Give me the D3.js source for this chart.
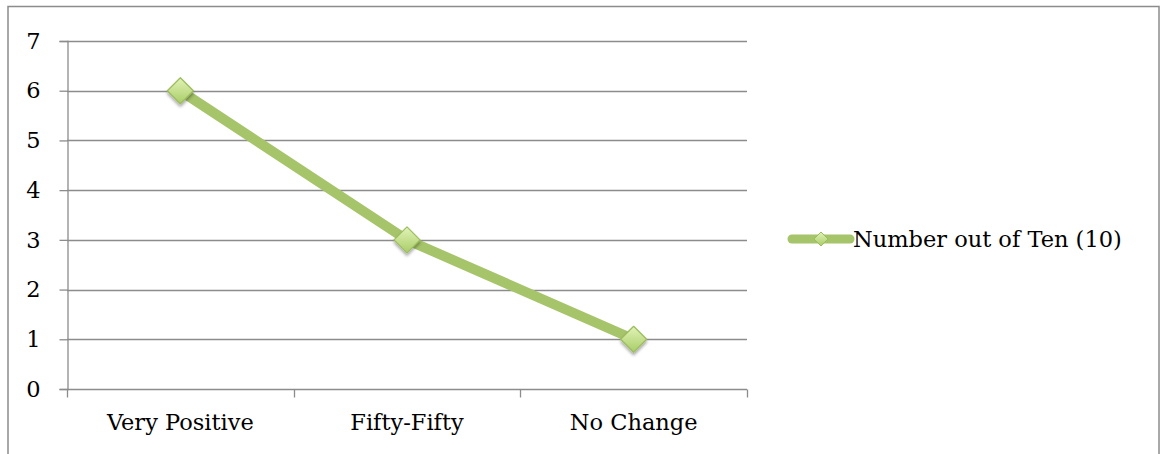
<!DOCTYPE html>
<html>
<head>
<meta charset="utf-8">
<script src="https://cdn.jsdelivr.net/npm/d3@7/dist/d3.min.js"></script>
<style>
  html, body { margin: 0; padding: 0; background: #fff; }
  svg { display: block; }
  text { font-family: "DejaVu Serif", "Liberation Serif", serif; fill: #000; }
</style>
</head>
<body>
<svg id="chart" width="1160" height="454"></svg>
<script>
// Survey responses, count out of ten
const categories = ["Very Positive", "Fifty-Fifty", "No Change"];
const values = [6, 3, 1];
const seriesName = "Number out of Ten (10)";
const yTicks = [0, 1, 2, 3, 4, 5, 6, 7];

const svg = d3.select("#chart");
const plot = { left: 67, right: 747, top: 41, bottom: 389 };
const FONT = "22.5px";

// chart frame
svg.append("rect")
  .attr("x", 8).attr("y", 6.5)
  .attr("width", 1151).attr("height", 460)
  .attr("fill", "#fff").attr("stroke", "#8c8c8c").attr("stroke-width", 1.5);

const defs = svg.append("defs");
const grad = defs.append("linearGradient").attr("id", "mk")
  .attr("x1", 0).attr("y1", 0).attr("x2", 0).attr("y2", 1);
grad.append("stop").attr("offset", "0%").attr("stop-color", "#e2f3b8");
grad.append("stop").attr("offset", "100%").attr("stop-color", "#a9cd67");
const sh = defs.append("filter").attr("id", "sh")
  .attr("x", "-50%").attr("y", "-50%").attr("width", "200%").attr("height", "200%");
sh.append("feDropShadow").attr("dx", 0).attr("dy", 2.5).attr("stdDeviation", 1.8)
  .attr("flood-color", "#000").attr("flood-opacity", 0.35);

const x = d3.scaleBand().domain(categories).range([plot.left, plot.right]);
const y = d3.scaleLinear().domain([0, 7]).range([plot.bottom, plot.top]);

// horizontal gridlines
svg.append("g").selectAll("line").data(yTicks.filter(d => d > 0)).join("line")
  .attr("x1", plot.left).attr("x2", plot.right)
  .attr("y1", d => Math.round(y(d)) + 0.5).attr("y2", d => Math.round(y(d)) + 0.5)
  .attr("stroke", "#8c8c8c").attr("stroke-width", 1.3);

// y axis
const yAxis = svg.append("g").attr("transform", `translate(${plot.left + 0.5},0)`)
  .call(d3.axisLeft(y).tickValues(yTicks).tickSize(8).tickPadding(19).tickFormat(d3.format("d")));
yAxis.select(".domain").attr("stroke", "#8c8c8c").attr("stroke-width", 1.3);
yAxis.selectAll(".tick line").attr("stroke", "#8c8c8c").attr("stroke-width", 1.3);
yAxis.selectAll(".tick text").style("font-family", "DejaVu Serif").style("font-size", FONT)
  .attr("fill", "#000");

// x axis with boundary ticks between categories
const boundaries = categories.map(c => x(c)).concat([plot.right]);
const xg = svg.append("g").attr("transform", `translate(0,${Math.round(y(0)) + 0.5})`);
xg.append("line").attr("x1", plot.left).attr("x2", plot.right)
  .attr("stroke", "#8c8c8c").attr("stroke-width", 1.3);
xg.selectAll("line.tk").data(boundaries).join("line").attr("class", "tk")
  .attr("x1", d => Math.round(d) + 0.5).attr("x2", d => Math.round(d) + 0.5)
  .attr("y1", 0).attr("y2", 8)
  .attr("stroke", "#8c8c8c").attr("stroke-width", 1.3);
xg.selectAll("text").data(categories).join("text")
  .attr("x", d => x(d) + x.bandwidth() / 2).attr("y", 40)
  .attr("text-anchor", "middle").style("font-size", FONT)
  .text(d => d);

// series line
const cx = (d, i) => x(categories[i]) + x.bandwidth() / 2;
svg.append("path").datum(values)
  .attr("d", d3.line().x(cx).y(d => y(d)))
  .attr("fill", "none").attr("stroke", "#a6c46a").attr("stroke-width", 10)
  .attr("stroke-linejoin", "round");

// diamond markers
const diamond = s => `M0,${-s}L${s},0L0,${s}L${-s},0Z`;
svg.append("g").selectAll("path").data(values).join("path")
  .attr("transform", (d, i) => `translate(${cx(d, i)},${y(d)})`)
  .attr("d", diamond(13))
  .attr("fill", "url(#mk)").attr("stroke", "#9cbd5e").attr("stroke-width", 1.2)
  .attr("stroke-linejoin", "round")
  .attr("filter", "url(#sh)");

// legend
const lg = svg.append("g").attr("transform", "translate(792,239)");
lg.append("line").attr("x1", 0).attr("x2", 58)
  .attr("stroke", "#a6c46a").attr("stroke-width", 9).attr("stroke-linecap", "round");
lg.append("path").attr("transform", "translate(29,0)").attr("d", diamond(7))
  .attr("fill", "url(#mk)").attr("stroke", "#9cbd5e").attr("stroke-width", 1);
lg.append("text").attr("x", 61).attr("y", 8).style("font-size", FONT).text(seriesName);
</script>
</body>
</html>
